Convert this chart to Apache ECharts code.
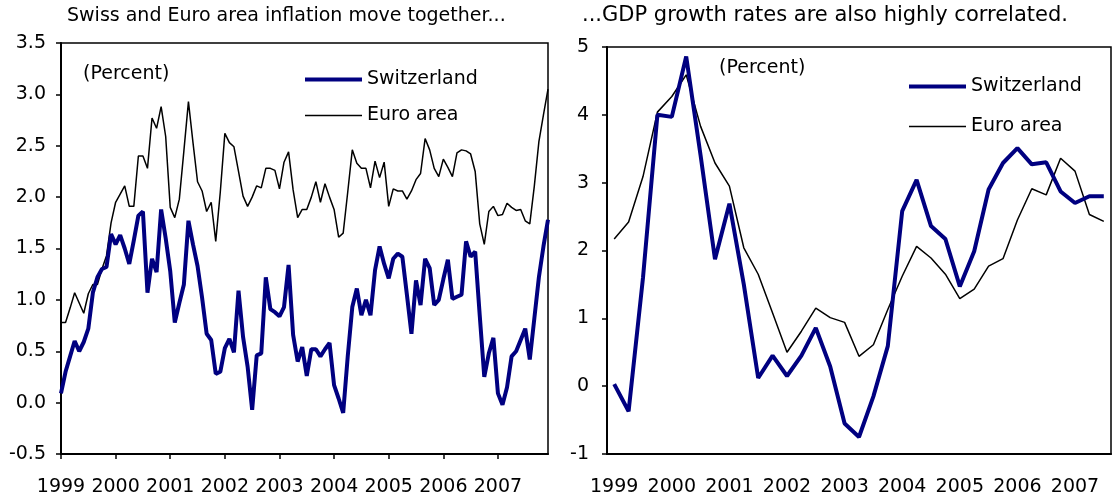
<!DOCTYPE html>
<html>
<head>
<meta charset="utf-8">
<script src="https://cdn.jsdelivr.net/npm/echarts@6/dist/echarts.min.js"></script>
<style>
  html, body { margin: 0; padding: 0; background: #fff; }
  #chart { width: 1113px; height: 497px; }
</style>
</head>
<body>
<div id="chart"></div>
<script>
const years = ['1999', '2000', '2001', '2002', '2003', '2004', '2005', '2006', '2007']

// monthly CPI inflation, Jan 1999 - Dec 2007
const swissCpi = [
  0.09, 0.30, 0.45, 0.60, 0.50, 0.59, 0.72, 1.07, 1.22, 1.30, 1.32, 1.64,
  1.54, 1.63, 1.50, 1.35, 1.58, 1.82, 1.86, 1.07, 1.40, 1.27, 1.88, 1.60,
  1.28, 0.78, 0.97, 1.15, 1.77, 1.54, 1.33, 1.02, 0.67, 0.61, 0.28, 0.30,
  0.53, 0.62, 0.49, 1.09, 0.64, 0.35, -0.07, 0.46, 0.48, 1.22, 0.91, 0.88,
  0.84, 0.93, 1.34, 0.66, 0.40, 0.54, 0.26, 0.52, 0.52, 0.45, 0.52, 0.58,
  0.17, 0.04, -0.10, 0.45, 0.93, 1.11, 0.85, 1.00, 0.85, 1.29, 1.52, 1.35,
  1.21, 1.40, 1.45, 1.42, 1.05, 0.67, 1.19, 0.95, 1.40, 1.31, 0.95, 1.00,
  1.20, 1.39, 1.01, 1.03, 1.05, 1.57, 1.42, 1.47, 0.85, 0.25, 0.48, 0.63,
  0.09, -0.02, 0.15, 0.45, 0.50, 0.61, 0.72, 0.42, 0.82, 1.22, 1.52, 1.78
]
const euroCpi = [
  0.78, 0.78, 0.92, 1.07, 0.97, 0.87, 1.06, 1.15, 1.15, 1.30, 1.43, 1.75,
  1.95, 2.03, 2.11, 1.91, 1.91, 2.40, 2.40, 2.28, 2.77, 2.67, 2.88, 2.59,
  1.90, 1.80, 1.98, 2.45, 2.93, 2.53, 2.15, 2.06, 1.86, 1.95, 1.57, 2.05,
  2.62, 2.53, 2.49, 2.25, 2.01, 1.91, 2.00, 2.11, 2.09, 2.28, 2.28, 2.26,
  2.08, 2.34, 2.44, 2.07, 1.80, 1.88, 1.88, 2.00, 2.15, 1.95, 2.13, 2.00,
  1.88, 1.61, 1.65, 2.05, 2.46, 2.33, 2.28, 2.28, 2.09, 2.35, 2.19, 2.34,
  1.91, 2.08, 2.06, 2.06, 1.98, 2.06, 2.17, 2.23, 2.57, 2.46, 2.28, 2.20,
  2.37, 2.29, 2.20, 2.43, 2.46, 2.45, 2.42, 2.25, 1.74, 1.54, 1.86, 1.91,
  1.82, 1.83, 1.94, 1.90, 1.87, 1.88, 1.77, 1.74, 2.11, 2.54, 2.80, 3.05
]

// quarterly GDP growth, 1999Q1 - 2007Q3
const swissGdp = [
  0.03, -0.37, 1.60, 4.00, 3.97, 4.86, 3.40, 1.87, 2.69, 1.50,
  0.12, 0.45, 0.15, 0.45, 0.86, 0.29, -0.55, -0.75, -0.15, 0.59,
  2.58, 3.04, 2.36, 2.17, 1.47, 1.99, 2.90, 3.29, 3.51, 3.27,
  3.30, 2.87, 2.70, 2.80, 2.80
]
const euroGdp = [
  2.17, 2.42, 3.09, 4.04, 4.27, 4.59, 3.83, 3.29, 2.95, 2.04,
  1.65, 1.08, 0.50, 0.81, 1.15, 1.01, 0.94, 0.44, 0.61, 1.13,
  1.62, 2.06, 1.89, 1.65, 1.29, 1.43, 1.77, 1.88, 2.45, 2.91,
  2.82, 3.36, 3.17, 2.53, 2.43
]

const months = years.flatMap(y => ['01','02','03','04','05','06','07','08','09','10','11','12'].map(m => y + '-' + m))
const quarters = years.flatMap(y => ['Q1','Q2','Q3','Q4'].map(q => y + q)).slice(0, swissGdp.length)

const FONT = '"DejaVu Sans", sans-serif'
const NAVY = '#000080'

const chart = echarts.init(document.getElementById('chart'), null, { renderer: 'canvas' })

const axisText = { color: '#000', fontSize: 19, fontFamily: FONT }
const legendItems = [
  { name: 'Switzerland', lineStyle: { color: NAVY, width: 4 } },
  { name: 'Euro area', lineStyle: { color: '#000', width: 1.5 } }
]

const option = {
  backgroundColor: '#fff',
  animation: false,
  title: [
    { text: 'Swiss and Euro area inflation move together...', left: 67, top: 7, padding: 0,
      textStyle: { fontSize: 19, fontWeight: 'normal', color: '#000', fontFamily: FONT } },
    { text: '...GDP growth rates are also highly correlated.', left: 582, top: 5, padding: 0,
      textStyle: { fontSize: 21, fontWeight: 'normal', color: '#000', fontFamily: FONT } }
  ],
  legend: [
    {
      left: 303, top: 70, orient: 'vertical', padding: 0,
      itemWidth: 57, itemHeight: 20, itemGap: 17,
      itemStyle: { opacity: 0 },
      textStyle: { fontSize: 19, color: '#000', fontFamily: FONT },
      data: legendItems
    },
    {
      left: 907, top: 77, orient: 'vertical', padding: 0,
      itemWidth: 57, itemHeight: 20, itemGap: 21,
      itemStyle: { opacity: 0 },
      textStyle: { fontSize: 19, color: '#000', fontFamily: FONT },
      data: legendItems
    }
  ],
  graphic: [
    { type: 'text', left: 83, top: 65, style: { text: '(Percent)', fontSize: 19, fill: '#000', fontFamily: FONT } },
    { type: 'text', left: 719, top: 59, style: { text: '(Percent)', fontSize: 19, fill: '#000', fontFamily: FONT } }
  ],
  grid: [
    { left: 61, top: 43, width: 487, height: 411, show: true, borderColor: '#000', borderWidth: 1.5 },
    { left: 607, top: 47, width: 504, height: 407, show: true, borderColor: '#000', borderWidth: 1.5 }
  ],
  xAxis: [
    {
      gridIndex: 0, type: 'category', data: months, boundaryGap: false,
      axisLine: { onZero: false, lineStyle: { color: '#000', width: 2 } },
      axisTick: { interval: 11, length: 5, lineStyle: { color: '#000', width: 1.5 } },
      axisLabel: Object.assign({ interval: 11, margin: 24, formatter: v => v.slice(0, 4) }, axisText),
      splitLine: { show: false }
    },
    {
      gridIndex: 1, type: 'category', data: quarters, boundaryGap: true,
      axisLine: { onZero: false, lineStyle: { color: '#000', width: 2 } },
      axisTick: { interval: 3, length: 5, lineStyle: { color: '#000', width: 1.5 } },
      axisLabel: Object.assign({ interval: 3, margin: 24, formatter: v => v.slice(0, 4) }, axisText),
      splitLine: { show: false }
    }
  ],
  yAxis: [
    {
      gridIndex: 0, type: 'value', min: -0.5, max: 3.5, interval: 0.5,
      axisLine: { show: true, lineStyle: { color: '#000', width: 2 } },
      axisTick: { show: true, length: 5, lineStyle: { color: '#000', width: 1.5 } },
      axisLabel: Object.assign({ margin: 15, formatter: v => v.toFixed(1) }, axisText),
      splitLine: { show: false }
    },
    {
      gridIndex: 1, type: 'value', min: -1, max: 5, interval: 1,
      axisLine: { show: true, lineStyle: { color: '#000', width: 2 } },
      axisTick: { show: true, length: 5, lineStyle: { color: '#000', width: 1.5 } },
      axisLabel: Object.assign({ margin: 18 }, axisText),
      splitLine: { show: false }
    }
  ],
  series: [
    {
      name: 'Switzerland', type: 'line', xAxisIndex: 0, yAxisIndex: 0,
      data: swissCpi, symbol: 'none', z: 3,
      lineStyle: { color: NAVY, width: 4 }, itemStyle: { color: NAVY }
    },
    {
      name: 'Euro area', type: 'line', xAxisIndex: 0, yAxisIndex: 0,
      data: euroCpi, symbol: 'none', z: 2,
      lineStyle: { color: '#000', width: 1.5 }, itemStyle: { color: '#000' }
    },
    {
      name: 'Switzerland', type: 'line', xAxisIndex: 1, yAxisIndex: 1,
      data: swissGdp, symbol: 'none', z: 3,
      lineStyle: { color: NAVY, width: 4 }, itemStyle: { color: NAVY }
    },
    {
      name: 'Euro area', type: 'line', xAxisIndex: 1, yAxisIndex: 1,
      data: euroGdp, symbol: 'none', z: 2,
      lineStyle: { color: '#000', width: 1.5 }, itemStyle: { color: '#000' }
    }
  ]
}

chart.setOption(option)
</script>
</body>
</html>
